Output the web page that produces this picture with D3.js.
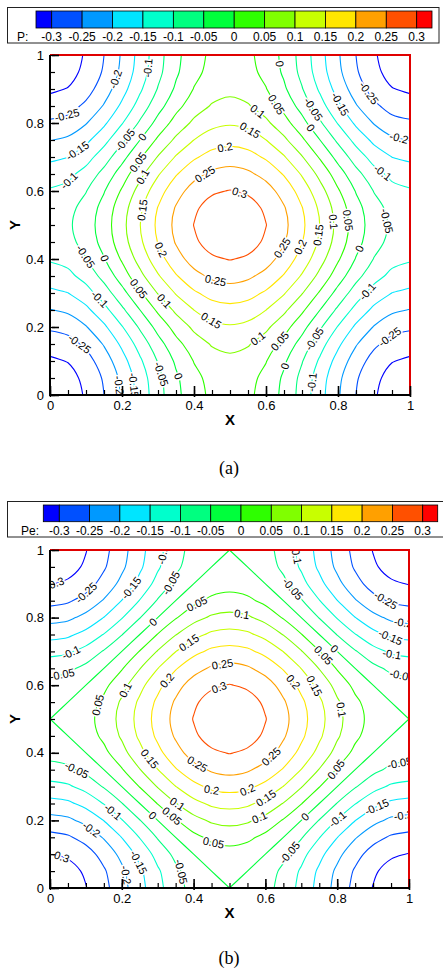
<!DOCTYPE html>
<html>
<head>
<meta charset="utf-8">
<script src="https://cdn.jsdelivr.net/npm/d3@7"></script>
<style>
body { margin: 0; background: #fff; }
svg text { font-family: "Liberation Sans", Arial, sans-serif; fill: #000; }
</style>
</head>
<body>
<svg id="fig" width="443" height="975"></svg>
<script>
// Niveles de contorno y colores
const levels = [-0.3, -0.25, -0.2, -0.15, -0.1, -0.05, 0, 0.05, 0.1, 0.15, 0.2, 0.25, 0.3];
const levelLabels = ['-0.3', '-0.25', '-0.2', '-0.15', '-0.1', '-0.05', '0', '0.05', '0.1', '0.15', '0.2', '0.25', '0.3'];
const bandColors = ['#0000ff', '#0050ff', '#0099ff', '#00e5ff', '#00ffcc', '#00ff80', '#00ff3c',
    '#2eff00', '#80ff00', '#c8ff00', '#ffe600', '#ffa000', '#ff5000', '#ff0000'];
const axisTicks = [0, 0.2, 0.4, 0.6, 0.8, 1];
const axisTickLabels = ['0', '0.2', '0.4', '0.6', '0.8', '1'];

// Campo P (a): cuadrante x,y = 0..0.5 cada 0.05 (filas = y)
const pQuadrant = [
    [-0.333, -0.323, -0.295, -0.2502, -0.194, -0.132, -0.069, -0.013, 0.031, 0.060, 0.070],
    [-0.327, -0.317, -0.288, -0.244, -0.188, -0.126, -0.064, -0.008, 0.037, 0.065, 0.075],
    [-0.308, -0.298, -0.270, -0.225, -0.169, -0.108, -0.047, 0.008, 0.052, 0.080, 0.089],
    [-0.279, -0.269, -0.240, -0.196, -0.140, -0.080, -0.019, 0.034, 0.077, 0.104, 0.113],
    [-0.242, -0.232, -0.203, -0.159, -0.103, -0.043, 0.017, 0.069, 0.110, 0.136, 0.145],
    [-0.202, -0.191, -0.162, -0.116, -0.060, 0.000, 0.059, 0.110, 0.1503, 0.176, 0.184],
    [-0.161, -0.1504, -0.120, -0.074, -0.017, 0.044, 0.103, 0.154, 0.193, 0.218, 0.227],
    [-0.124, -0.113, -0.082, -0.034, 0.024, 0.086, 0.145, 0.196, 0.235, 0.259, 0.268],
    [-0.095, -0.084, -0.052, -0.003, 0.056, 0.119, 0.179, 0.231, 0.270, 0.294, 0.302],
    [-0.076, -0.065, -0.032, 0.018, 0.078, 0.141, 0.202, 0.254, 0.293, 0.317, 0.325],
    [-0.070, -0.058, -0.025, 0.025, 0.085, 0.149, 0.210, 0.262, 0.301, 0.325, 0.333]
];

// Campo Pe (b): mismo cuadrante
const peQuadrant = [
    [-0.333, -0.325, -0.302, -0.265, -0.218, -0.167, -0.115, -0.069, -0.032, -0.008, 0],
    [-0.325, -0.317, -0.293, -0.256, -0.210, -0.159, -0.107, -0.061, -0.024, 0, 0.008],
    [-0.302, -0.293, -0.270, -0.233, -0.186, -0.135, -0.083, -0.037, 0, 0.024, 0.032],
    [-0.265, -0.256, -0.233, -0.196, -0.149, -0.098, -0.046, 0, 0.037, 0.061, 0.069],
    [-0.218, -0.210, -0.186, -0.149, -0.103, -0.052, 0, 0.046, 0.083, 0.107, 0.115],
    [-0.167, -0.159, -0.135, -0.098, -0.052, 0, 0.052, 0.098, 0.135, 0.159, 0.167],
    [-0.115, -0.107, -0.083, -0.046, 0, 0.052, 0.103, 0.149, 0.186, 0.210, 0.218],
    [-0.069, -0.061, -0.037, 0, 0.046, 0.098, 0.149, 0.196, 0.233, 0.256, 0.265],
    [-0.032, -0.024, 0, 0.037, 0.083, 0.135, 0.186, 0.233, 0.270, 0.293, 0.302],
    [-0.008, 0, 0.024, 0.061, 0.107, 0.159, 0.210, 0.256, 0.293, 0.317, 0.325],
    [0, 0.008, 0.032, 0.069, 0.115, 0.167, 0.218, 0.265, 0.302, 0.325, 0.333]
];

// Etiquetas de contorno [nivel, x, y]
const pLabels = [
    [-0.2, 0.19, 0.926], [-0.1, 0.278, 0.961], [-0.25, 0.046, 0.828], [-0.15, 0.069, 0.73],
    [-0.1, 0.042, 0.642], [-0.05, 0.208, 0.75], [0, 0.255, 0.76], [0.05, 0.236, 0.691],
    [0.1, 0.25, 0.647], [0.15, 0.255, 0.544], [0.25, 0.426, 0.657], [0.2, 0.486, 0.73],
    [0, 0.722, 0.985], [-0.25, 0.884, 0.887], [0.05, 0.62, 0.848], [-0.05, 0.727, 0.838],
    [-0.15, 0.801, 0.853], [0.1, 0.569, 0.824], [0, 0.722, 0.784], [0.15, 0.551, 0.771],
    [-0.2, 0.968, 0.75], [-0.1, 0.926, 0.657], [0.3, 0.528, 0.598], [0.1, 0.792, 0.51],
    [0.05, 0.838, 0.515], [-0.05, 0.949, 0.515], [-0.05, 0.083, 0.397], [0, 0.139, 0.397],
    [0.2, 0.306, 0.426], [0.25, 0.458, 0.328], [-0.1, 0.13, 0.274], [0.05, 0.241, 0.309],
    [0.1, 0.315, 0.274], [0.15, 0.449, 0.221], [-0.25, 0.083, 0.152], [-0.05, 0.315, 0.064],
    [0, 0.366, 0.059], [-0.2, 0.194, 0.029], [-0.15, 0.236, 0.029], [0.25, 0.648, 0.431],
    [0.2, 0.694, 0.436], [0.15, 0.741, 0.471], [0, 0.87, 0.426], [-0.1, 0.893, 0.294],
    [0.1, 0.574, 0.171], [0.05, 0.634, 0.162], [-0.05, 0.731, 0.167], [-0.25, 0.94, 0.176],
    [0, 0.644, 0.088], [-0.1, 0.764, 0.034]
];
const peLabels = [
    [-0.3, 0.014, 0.898], [-0.25, 0.102, 0.872], [-0.15, 0.228, 0.886], [-0.1, 0.316, 0.985],
    [-0.05, 0.339, 0.901], [0.05, 0.409, 0.842], [0, 0.286, 0.788], [0.15, 0.385, 0.729],
    [0.25, 0.48, 0.665], [-0.1, 0.06, 0.694], [-0.05, 0.033, 0.635], [0.2, 0.325, 0.615],
    [0.3, 0.47, 0.596], [0.1, 0.209, 0.586], [0.05, 0.135, 0.541], [-0.1, 0.682, 0.985],
    [-0.05, 0.673, 0.882], [-0.25, 0.933, 0.847], [-0.2, 0.984, 0.783], [0.1, 0.534, 0.808],
    [-0.15, 0.947, 0.739], [0, 0.789, 0.704], [0.05, 0.757, 0.684], [-0.1, 0.952, 0.689],
    [-0.05, 0.98, 0.625], [0.2, 0.678, 0.61], [0.15, 0.733, 0.596], [0.1, 0.812, 0.527],
    [0.15, 0.274, 0.379], [0.25, 0.409, 0.364], [-0.05, 0.074, 0.349], [0.2, 0.45, 0.29],
    [0.1, 0.353, 0.246], [-0.1, 0.176, 0.226], [0, 0.283, 0.211], [0.05, 0.334, 0.206],
    [-0.2, 0.111, 0.167], [0.05, 0.455, 0.132], [-0.3, 0.028, 0.093], [-0.15, 0.241, 0.073],
    [-0.05, 0.362, 0.048], [-0.2, 0.158, 0.029], [0.25, 0.617, 0.388], [0.05, 0.799, 0.349],
    [-0.05, 0.975, 0.364], [0.2, 0.552, 0.285], [0.15, 0.599, 0.27], [-0.15, 0.91, 0.241],
    [0, 0.71, 0.211], [-0.1, 0.799, 0.206], [0.1, 0.585, 0.206], [-0.2, 0.984, 0.216],
    [-0.05, 0.669, 0.103]
];

let svg = d3.select('#fig');
let lineColor = d3.scaleOrdinal(levels, bandColors.slice(0, 13));

let panels = [
    {id: 'a', name: 'P:', caption: '(a)', quadrant: pQuadrant, labels: pLabels,
     left: 50, right: 410, top: 55, bottom: 395,
     box: [7.5, 7.5, 439, 43], bar: [36, 432, 11, 28], barLo: 51.7, barHi: 416.7, nameX: 17,
     captionY: 474},
    {id: 'b', name: 'Pe:', caption: '(b)', quadrant: peQuadrant, labels: peLabels,
     left: 50, right: 409, top: 550, bottom: 888,
     box: [7.5, 501.5, 446, 537], bar: [43.3, 437.7, 505, 521.7], barLo: 59.3, barHi: 422.7, nameX: 21,
     captionY: 964}
];

panels.forEach(drawPanel);

function drawPanel(cfg) {
    //Barra de colores
    let g = svg.append('g');
    g.append('rect')
        .attr('x', cfg.box[0]).attr('y', cfg.box[1])
        .attr('width', cfg.box[2] - cfg.box[0]).attr('height', cfg.box[3] - cfg.box[1])
        .attr('fill', 'none').attr('stroke', '#222').attr('stroke-width', 1);

    let barX = d3.scaleLinear().domain([levels[0], levels[levels.length - 1]]).range([cfg.barLo, cfg.barHi]);
    let edges = [cfg.bar[0]].concat(levels.map(barX), [cfg.bar[1]]);
    g.selectAll('.cell')
        .data(bandColors)
        .enter()
        .append('rect')
        .attr('x', (d, i) => edges[i])
        .attr('width', (d, i) => edges[i + 1] - edges[i])
        .attr('y', cfg.bar[2])
        .attr('height', cfg.bar[3] - cfg.bar[2])
        .attr('fill', d => d)
        .attr('stroke', '#000')
        .attr('stroke-width', 0.8);

    g.selectAll('.barlabel')
        .data(levels)
        .enter()
        .append('text')
        .attr('x', d => barX(d))
        .attr('y', cfg.bar[3] + 13)
        .attr('text-anchor', 'middle')
        .style('font-size', '12px')
        .text((d, i) => levelLabels[i]);

    g.append('text')
        .attr('x', cfg.nameX)
        .attr('y', cfg.bar[3] + 13)
        .style('font-size', '12px')
        .text(cfg.name);

    //Escalas
    let x = d3.scaleLinear().domain([0, 1]).range([cfg.left, cfg.right]);
    let y = d3.scaleLinear().domain([0, 1]).range([cfg.bottom, cfg.top]);

    //Rejilla completa a partir del cuadrante (simetría)
    let half = cfg.quadrant.length - 1;
    let n = half * 2 + 1;
    let values = [];
    for (let j = 0; j < n; j++) {
        let row = cfg.quadrant[j <= half ? j : n - 1 - j];
        for (let i = 0; i < n; i++) values.push(row[i <= half ? i : n - 1 - i]);
    }

    let contours = d3.contours().size([n, n]).thresholds(levels)(values);

    let clipId = 'clip-' + cfg.id;
    svg.append('clipPath').attr('id', clipId)
        .append('rect')
        .attr('x', cfg.left).attr('y', cfg.top)
        .attr('width', cfg.right - cfg.left).attr('height', cfg.bottom - cfg.top);

    let plot = svg.append('g').attr('clip-path', `url(#${clipId})`);

    let runsByLevel = new Map();
    contours.forEach(function(c) {
        let runs = getRuns(c, n).map(function(r) {
            return {closed: r.closed, pts: r.pts.map(p => [x(p[0]), y(p[1])])};
        });
        runsByLevel.set(c.value, runs);
    });

    let open = d3.line().curve(d3.curveCatmullRom.alpha(0.5));
    let closed = d3.line().curve(d3.curveCatmullRomClosed.alpha(0.5));

    levels.forEach(function(lv) {
        plot.selectAll(null)
            .data(runsByLevel.get(lv) || [])
            .enter()
            .append('path')
            .attr('d', r => (r.closed ? closed : open)(r.pts))
            .attr('fill', 'none')
            .attr('stroke', lineColor(lv))
            .attr('stroke-width', 1.1);
    });

    //Etiquetas sobre las líneas
    cfg.labels.forEach(function(lb) {
        let runs = runsByLevel.get(lb[0]) || [];
        let px = x(lb[1]), py = y(lb[2]);
        let best = null;
        runs.forEach(function(r) {
            let pts = r.pts;
            let m = r.closed ? pts.length : pts.length - 1;
            for (let k = 0; k < m; k++) {
                let a = pts[k], b = pts[(k + 1) % pts.length];
                let dx = b[0] - a[0], dy = b[1] - a[1];
                let len2 = dx * dx + dy * dy;
                if (len2 === 0) continue;
                let t = Math.max(0, Math.min(1, ((px - a[0]) * dx + (py - a[1]) * dy) / len2));
                let qx = a[0] + t * dx, qy = a[1] + t * dy;
                let dist = (qx - px) * (qx - px) + (qy - py) * (qy - py);
                if (!best || dist < best.dist) best = {dist, qx, qy, ang: Math.atan2(dy, dx) * 180 / Math.PI};
            }
        });
        if (!best) return;
        let ang = best.ang;
        if (ang > 90) ang -= 180;
        if (ang < -90) ang += 180;
        plot.append('text')
            .attr('transform', `translate(${best.qx},${best.qy}) rotate(${ang})`)
            .attr('text-anchor', 'middle')
            .attr('dy', '0.35em')
            .style('font-size', '11px')
            .style('stroke', '#fff')
            .style('stroke-width', 3)
            .style('paint-order', 'stroke')
            .text(levelLabels[levels.indexOf(lb[0])]);
    });

    //Marco
    svg.append('path')
        .attr('d', `M${cfg.left},${cfg.top}H${cfg.right}V${cfg.bottom}`)
        .attr('fill', 'none').attr('stroke', '#e00000').attr('stroke-width', 2);
    svg.append('path')
        .attr('d', `M${cfg.left},${cfg.top}V${cfg.bottom}H${cfg.right}`)
        .attr('fill', 'none').attr('stroke', '#000').attr('stroke-width', 2);

    //Ejes
    let minor = d3.range(0, 21).map(k => k / 20);
    let yAxis = function(g) {
        g.call(d3.axisLeft(y).tickValues(axisTicks).tickFormat((d, i) => axisTickLabels[i]).tickSize(-9).tickSizeOuter(0).tickPadding(6));
        g.select('.domain').remove();
        g.selectAll('.tick line').attr('x1', 2).attr('stroke-width', 1.6);
        g.selectAll('.tick text').style('font-size', '13px').style('font-family', '"Liberation Sans", Arial, sans-serif');
    };
    let xAxis = function(g) {
        g.call(d3.axisBottom(x).tickValues(axisTicks).tickFormat((d, i) => axisTickLabels[i]).tickSize(-9).tickSizeOuter(0).tickPadding(6));
        g.select('.domain').remove();
        g.selectAll('.tick line').attr('y1', 2).attr('stroke-width', 1.6);
        g.selectAll('.tick text').style('font-size', '13px').style('font-family', '"Liberation Sans", Arial, sans-serif');
    };
    svg.append('g').attr('transform', `translate(${cfg.left},0)`)
        .call(g => g.call(d3.axisLeft(y).tickValues(minor).tickSize(-5).tickSizeOuter(0).tickFormat('')))
        .call(g => g.select('.domain').remove())
        .call(g => g.selectAll('.tick line').attr('stroke-width', 1.2));
    svg.append('g').attr('transform', `translate(0,${cfg.bottom})`)
        .call(g => g.call(d3.axisBottom(x).tickValues(minor).tickSize(-5).tickSizeOuter(0).tickFormat('')))
        .call(g => g.select('.domain').remove())
        .call(g => g.selectAll('.tick line').attr('stroke-width', 1.2));
    svg.append('g').attr('transform', `translate(${cfg.left},0)`).call(yAxis);
    svg.append('g').attr('transform', `translate(0,${cfg.bottom})`).call(xAxis);

    //Títulos de ejes
    svg.append('text')
        .attr('x', (cfg.left + cfg.right) / 2)
        .attr('y', cfg.bottom + 30)
        .attr('text-anchor', 'middle')
        .style('font-size', '15px').style('font-weight', 'bold')
        .text('X');
    svg.append('text')
        .attr('transform', `translate(20,${(cfg.top + cfg.bottom) / 2}) rotate(-90)`)
        .attr('text-anchor', 'middle')
        .style('font-size', '15px').style('font-weight', 'bold')
        .text('Y');

    svg.append('text')
        .attr('x', 229)
        .attr('y', cfg.captionY)
        .attr('text-anchor', 'middle')
        .style('font-family', '"Liberation Serif", "Times New Roman", serif')
        .style('font-size', '18px')
        .text(cfg.caption);
}

/* Tramos de línea a partir de los anillos de d3.contours */
function getRuns(geom, n) {
    let runs = [];
    let eps = 1e-6;
    geom.coordinates.forEach(function(poly) {
        poly.forEach(function(ring) {
            let pts = ring.slice(0, -1).map(function(p) {
                let px = (p[0] - 0.5) / (n - 1), py = (p[1] - 0.5) / (n - 1);
                let inside = px > -eps && px < 1 + eps && py > -eps && py < 1 + eps;
                return {p: [px, py], inside};
            });
            let start = pts.findIndex(d => !d.inside);
            if (start < 0) {
                runs.push({closed: true, pts: dedupe(pts.map(d => d.p))});
                return;
            }
            let cur = [];
            for (let k = 1; k <= pts.length; k++) {
                let d = pts[(start + k) % pts.length];
                if (d.inside) {
                    cur.push(d.p);
                } else {
                    if (cur.length > 1) runs.push({closed: false, pts: dedupe(cur)});
                    cur = [];
                }
            }
        });
    });
    return runs.filter(r => r.pts.length > 1);
}

function dedupe(pts) {
    return pts.filter(function(p, i) {
        if (i === 0) return true;
        let q = pts[i - 1];
        return Math.abs(p[0] - q[0]) > 1e-9 || Math.abs(p[1] - q[1]) > 1e-9;
    });
}
</script>
</body>
</html>
